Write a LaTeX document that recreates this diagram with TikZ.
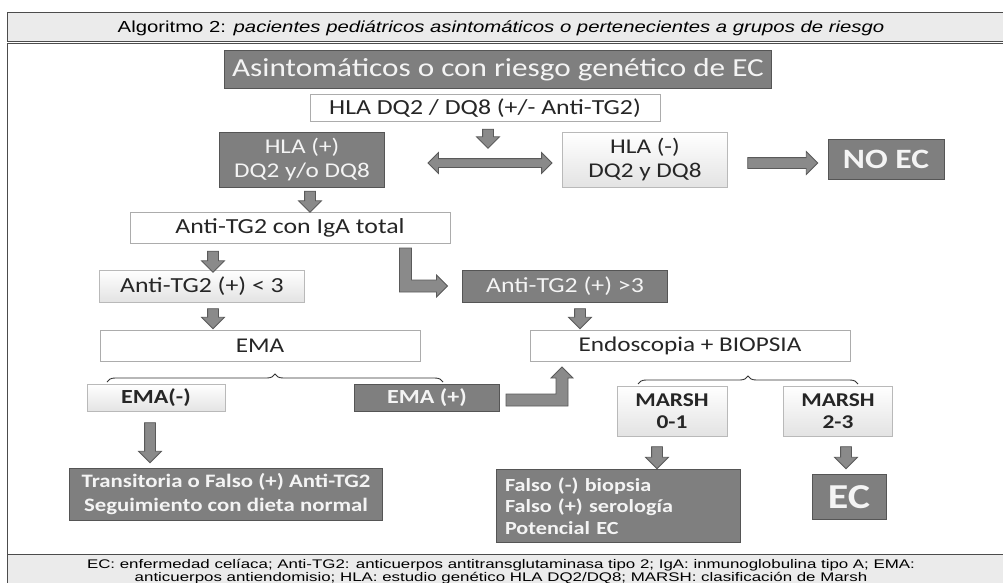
\documentclass[tikz,border=0pt]{standalone}
\usepackage{fontspec}
\setmainfont{Carlito}[FakeStretch=1.2]
\newfontfamily\hdrfont{Liberation Sans}[FakeStretch=1.27]
\newfontfamily\legfont{Liberation Sans}[FakeStretch=1.35]
\usetikzlibrary{positioning,shapes.arrows,calc,decorations.pathreplacing}

\definecolor{boxdark}{HTML}{7F7F7F}
\definecolor{edgedark}{HTML}{555555}
\definecolor{txtlight}{HTML}{F4F4F4}
\definecolor{bandgray}{HTML}{EBEBEB}
\definecolor{arrfill}{HTML}{8A8A8A}
\definecolor{arredge}{HTML}{5A5A5A}

\tikzset{
  darkbox/.style={draw=edgedark, fill=boxdark, text=txtlight, line width=1pt,
    align=center, inner sep=0pt},
  lightbox/.style={draw=gray!55, top color=white, bottom color=gray!22,
    text=black!85, line width=0.8pt, align=center, inner sep=0pt},
  whitebox/.style={draw=gray!65, fill=white, text=black!85, line width=1pt,
    align=center, inner sep=0pt},
  blockarr/.style={single arrow, draw=arredge, fill=arrfill, line width=0.8pt,
    inner sep=5pt, single arrow head extend=6pt},
  downarr/.style={blockarr, rotate=-90},
  blockline/.style={draw=arredge, fill=arrfill, line width=0.8pt, line join=miter},
  bracket/.style={draw=black!80, line width=0.9pt,
    decorate, decoration={brace, amplitude=8pt}},
  frame/.style={draw=black!70, line width=1pt}
}

\begin{document}
\begin{tikzpicture}[x=1pt, y=-1pt]
\useasboundingbox (0,0) rectangle (1003,583);
\clip (0,0) rectangle (1003,583);

% frame: header, body, footer
\fill[white] (0,0) rectangle (1003,583);
\draw[frame, fill=bandgray] (7,13) rectangle (1012,42);
\draw[frame] (7,44) rectangle (1012,554);
\fill[bandgray] (7.5,554.5) rectangle (1012,590);
\draw[frame] (7,590) -- (7,554) -- (1012,554);
\node[font=\hdrfont\fontsize{16}{19}\selectfont] (title) at (501,28)
  {Algoritmo 2: \textit{pacientes pediátricos asintomáticos o pertenecientes a grupos de riesgo}};
\node[font=\legfont\fontsize{12.5}{13}\selectfont, align=center] (legend) at (501,572)
  {EC: enfermedad celíaca; Anti-TG2: anticuerpos antitransglutaminasa tipo 2; IgA: inmunoglobulina tipo A; EMA:\\
   anticuerpos antiendomisio; HLA: estudio genético HLA DQ2/DQ8; MARSH: clasificación de Marsh};

% boxes
\node[darkbox, minimum width=547, minimum height=38, font=\fontsize{26}{30}\selectfont] (start) at (498,70)
  {Asintomáticos o con riesgo genético de EC};
\node[whitebox, minimum width=350, minimum height=27, font=\fontsize{21.5}{24}\selectfont] (hla) at (485,108)
  {HLA DQ2 / DQ8 (+/- Anti-TG2)};
\node[darkbox, minimum width=165, minimum height=55, font=\fontsize{21}{24}\selectfont] (hlapos) at (302,160)
  {HLA (+)\\DQ2 y/o DQ8};
\node[lightbox, minimum width=165, minimum height=55, font=\fontsize{21}{24}\selectfont] (hlaneg) at (645,160)
  {HLA (-)\\DQ2 y DQ8};
\node[darkbox, minimum width=116, minimum height=40, font=\bfseries\fontsize{28}{30}\selectfont] (noec) at (886,159)
  {NO EC};
\node[whitebox, minimum width=320, minimum height=31, font=\fontsize{21.5}{24}\selectfont] (tg2) at (290,228)
  {Anti-TG2 con IgA total};
\node[lightbox, minimum width=205, minimum height=32, font=\fontsize{21.5}{24}\selectfont] (low) at (202,286)
  {Anti-TG2 (+) < 3};
\node[darkbox, minimum width=205, minimum height=32, font=\fontsize{21.5}{24}\selectfont] (high) at (565,286)
  {Anti-TG2 (+) >3};
\node[whitebox, minimum width=320, minimum height=31, font=\fontsize{21}{24}\selectfont] (ema) at (260,346)
  {EMA};
\node[whitebox, minimum width=320, minimum height=31, font=\fontsize{21}{24}\selectfont] (endo) at (690,346)
  {Endoscopia + BIOPSIA};
\node[lightbox, minimum width=138, minimum height=27, font=\bfseries\fontsize{20}{22}\selectfont] (emaneg) at (156,398)
  {EMA(-)};
\node[darkbox, minimum width=145, minimum height=27, font=\bfseries\fontsize{20}{22}\selectfont] (emapos) at (427,398)
  {EMA (+)};
\node[lightbox, minimum width=110, minimum height=50, font=\bfseries\fontsize{19.5}{22}\selectfont] (m01) at (672,411)
  {MARSH\\0-1};
\node[lightbox, minimum width=109, minimum height=50, font=\bfseries\fontsize{19.5}{22}\selectfont] (m23) at (838,411)
  {MARSH\\2-3};
\node[darkbox, minimum width=313, minimum height=52, font=\bfseries\fontsize{19}{24}\selectfont] (trans) at (226,494)
  {Transitoria o Falso (+) Anti-TG2\\Seguimiento con dieta normal};
\node[darkbox, minimum width=244, minimum height=73, text width=226, align=left,
  font=\bfseries\fontsize{18.5}{21.5}\selectfont] (falso) at (618,506)
  {Falso (-) biopsia\\Falso (+) serología\\Potencial EC};
\node[darkbox, minimum width=74, minimum height=45, font=\bfseries\fontsize{35}{38}\selectfont] (ec) at (849,497)
  {EC};

% block arrows
\node[downarr, minimum height=19] (a1) at (488,136) {};
\node[double arrow, draw=arredge, fill=arrfill, line width=0.8pt, inner sep=4pt,
  double arrow head extend=6pt, minimum height=124] (a2) at (490,163) {};
\node[blockarr, minimum height=70] (a3) at (780,163) {};
\node[downarr, minimum height=21] (a4) at (310,199) {};
\node[downarr, minimum height=21] (a5) at (213,259) {};
\node[downarr, minimum height=20] (a6) at (213,316) {};
\node[downarr, minimum height=20] (a7) at (580,316) {};
\node[downarr, minimum height=40] (a8) at (150,440) {};
\node[downarr, minimum height=22] (a9) at (657,455) {};
\node[downarr, minimum height=22] (a10) at (846,455) {};

% bent arrows
\draw[blockline] ($(tg2.south east)+(-51,4)$) -- ++(0,44) -- ++(37,0) -- ++(0,5)
  -- ++(11,-11) -- ++(-11,-11) -- ++(0,5) -- ++(-25,0) -- ++(0,-32) -- cycle;
\draw[blockline] ($(emapos.east)+(6,-4)$) -- ++(50,0) -- ++(0,-16) -- ++(-5,0)
  -- ++(11,-11) -- ++(11,11) -- ++(-5,0) -- ++(0,28) -- ++(-62,0) -- cycle;

% brackets
\draw[bracket] (107,382) -- (443,382);
\draw[bracket] (638,384) -- (858,384);
\end{tikzpicture}
\end{document}
